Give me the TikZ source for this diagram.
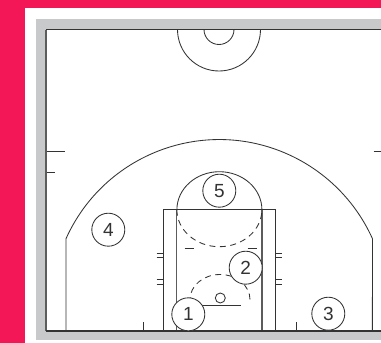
\documentclass[tikz,border=0pt]{standalone}
\usepackage{fontspec}
\setmainfont{Liberation Sans}
\definecolor{bandred}{HTML}{F31757}
\definecolor{floorgray}{HTML}{C7C9CB}
\definecolor{courtline}{HTML}{333333}
\begin{document}
\begin{tikzpicture}[
    x=1pt, y=-1pt,
    court/.style={draw=courtline, line width=0.85pt},
    courtbold/.style={draw=courtline, line width=1.4pt},
    lane/.style={draw=courtline!80, line width=1.1pt},
    path/.style={draw=courtline, line width=0.85pt, dash pattern=on 6pt off 4.5pt},
    player/.style={circle, draw=courtline, line width=0.85pt, fill=white, minimum size=33pt, inner sep=0pt, font=\fontsize{19}{19}\selectfont, text=courtline}
]
\useasboundingbox (0,0) rectangle (381,343);
% background
\fill[bandred] (0,0) rectangle (381,343);
\fill[white] (25,8) rectangle (381,343);
\fill[floorgray] (36,19) rectangle (381,340);
\fill[white] (46,29.5) rectangle (381,331);
% centre circles
\draw[court] (177.5,29.5) arc[start angle=180, end angle=0, x radius=41.5, y radius=41.5];
\draw[court] (204,29.5) arc[start angle=180, end angle=0, x radius=15, y radius=15];
% three point line
\draw[court] (66,331) -- (66,238.7) arc[start angle=-155.8, end angle=-24.2, radius=168] -- (372.4,331);
% lane
\draw[court] (163.5,331) -- (163.5,209.7) -- (275.7,209.7) -- (275.7,331);
\draw[lane] (176.9,331) -- (176.9,209.7);
\draw[lane] (262,331) -- (262,209.7);
\draw[courtbold] (176.9,209.7) -- (262,209.7);
% free throw circle
\draw[court] (176.9,209.7) arc[start angle=180, end angle=360, x radius=42.5, y radius=38];
\draw[path] (176.9,209.7) arc[start angle=180, end angle=0, x radius=42.5, y radius=37];
% lane marks
\foreach \y in {253,257.3,279.7,284} {
    \draw[court] (156.5,\y) -- (163.5,\y);
    \draw[court] (275.7,\y) -- (282,\y);
}
\draw[court] (184.5,248.2) -- (193.5,248.2);
\draw[court] (247.7,248.2) -- (256.7,248.2);
% sideline and baseline ticks
\draw[court] (46,151.3) -- (64.7,151.3);
\draw[court] (46,172) -- (54.5,172);
\draw[court] (373.7,151.3) -- (381,151.3);
\draw[courtbold] (143.7,322) -- (143.7,331);
\draw[court] (296.7,322) -- (296.7,331);
% border lines
\draw[court, line width=1pt] (46,29.5) -- (381,29.5);
\draw[lane, line width=1.2pt] (46,29.5) -- (46,331);
\draw[courtbold] (46,331) -- (381,331);
% basket
\draw[court] (220.3,298) circle[radius=5];
\draw[court] (195,305.3) -- (240.7,305.3);
\draw[path] (250,299.5) arc[start angle=0, end angle=-180, x radius=30, y radius=25];
% players
\node[player] (p1) at (188.3,314.3) {1};
\node[player] (p2) at (245.7,267.7) {2};
\node[player] (p3) at (328.3,313.7) {3};
\node[player] (p4) at (108.3,229.7) {4};
\node[player] (p5) at (219.3,190.7) {5};
\end{tikzpicture}
\end{document}
